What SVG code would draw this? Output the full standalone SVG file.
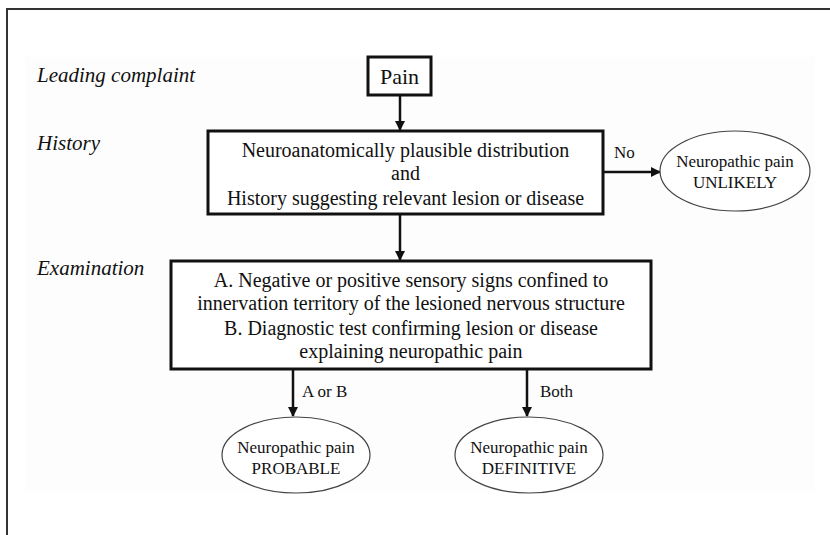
<svg xmlns="http://www.w3.org/2000/svg" width="830" height="535" viewBox="0 0 830 535" font-family="'Liberation Serif', 'Times New Roman', Tinos, 'DejaVu Serif', serif">
<style>
text{font-family:"Liberation Serif","Times New Roman",Tinos,"DejaVu Serif",serif;fill:#111}
.lbl{font-style:italic;font-size:21px}
.box{fill:#fff;stroke:#111;stroke-width:3}
.ell{fill:#fff;stroke:#444;stroke-width:1.2}
.t{font-size:20px;text-anchor:middle}
.e{font-size:17px;text-anchor:middle}
.c{stroke:#111;stroke-width:2.5;fill:none;marker-end:url(#ah)}
.cl{font-size:17px}
</style>
<defs>
<marker id="ah" viewBox="0 0 10 10" refX="9" refY="5" markerWidth="4" markerHeight="4" orient="auto" markerUnits="strokeWidth">
<path d="M0,0 L10,5 L0,10 z" fill="#111"/>
</marker>
</defs>
<rect width="830" height="535" fill="#fff"/>
<rect x="25" y="57" width="790" height="435" fill="#fdfdfd"/>
<path d="M7,535 V9 H830" fill="none" stroke="#333" stroke-width="2"/>
<g id="labels">
<text class="lbl" x="37" y="82">Leading complaint</text>
<text class="lbl" x="37" y="150">History</text>
<text class="lbl" x="37" y="275">Examination</text>
</g>
<g id="connectors">
<line class="c" x1="400" y1="95" x2="400" y2="130"/>
<line class="c" x1="603" y1="172" x2="660" y2="172"/>
<text class="cl" x="614" y="158">No</text>
<line class="c" x1="400" y1="214" x2="400" y2="260"/>
<line class="c" x1="293" y1="369" x2="293" y2="416"/>
<text class="cl" x="302" y="397">A or B</text>
<line class="c" x1="527" y1="369" x2="527" y2="416"/>
<text class="cl" x="540" y="397">Both</text>
</g>
<g id="pain">
<rect class="box" x="368" y="57" width="63" height="38"/>
<text class="t" x="399.5" y="84" style="font-size:22px">Pain</text>
</g>
<g id="history">
<rect class="box" x="208" y="131" width="395" height="83"/>
<text class="t" x="405.5" y="157">Neuroanatomically plausible distribution</text>
<text class="t" x="405.5" y="180">and</text>
<text class="t" x="405.5" y="205">History suggesting relevant lesion or disease</text>
</g>
<g id="unlikely">
<ellipse class="ell" cx="735" cy="171" rx="75" ry="40"/>
<text class="e" x="735" y="167">Neuropathic pain</text>
<text class="e" x="735" y="188">UNLIKELY</text>
</g>
<g id="examination">
<rect class="box" x="171" y="261" width="480" height="108"/>
<text class="t" x="411" y="287">A. Negative or positive sensory signs confined to</text>
<text class="t" x="411" y="310">innervation territory of the lesioned nervous structure</text>
<text class="t" x="411" y="335">B. Diagnostic test confirming lesion or disease</text>
<text class="t" x="411" y="358">explaining neuropathic pain</text>
</g>
<g id="probable">
<ellipse class="ell" cx="296" cy="455" rx="74" ry="38"/>
<text class="e" x="296" y="453">Neuropathic pain</text>
<text class="e" x="296" y="474">PROBABLE</text>
</g>
<g id="definitive">
<ellipse class="ell" cx="529" cy="455" rx="74" ry="38"/>
<text class="e" x="529" y="453">Neuropathic pain</text>
<text class="e" x="529" y="474">DEFINITIVE</text>
</g>
</svg>
